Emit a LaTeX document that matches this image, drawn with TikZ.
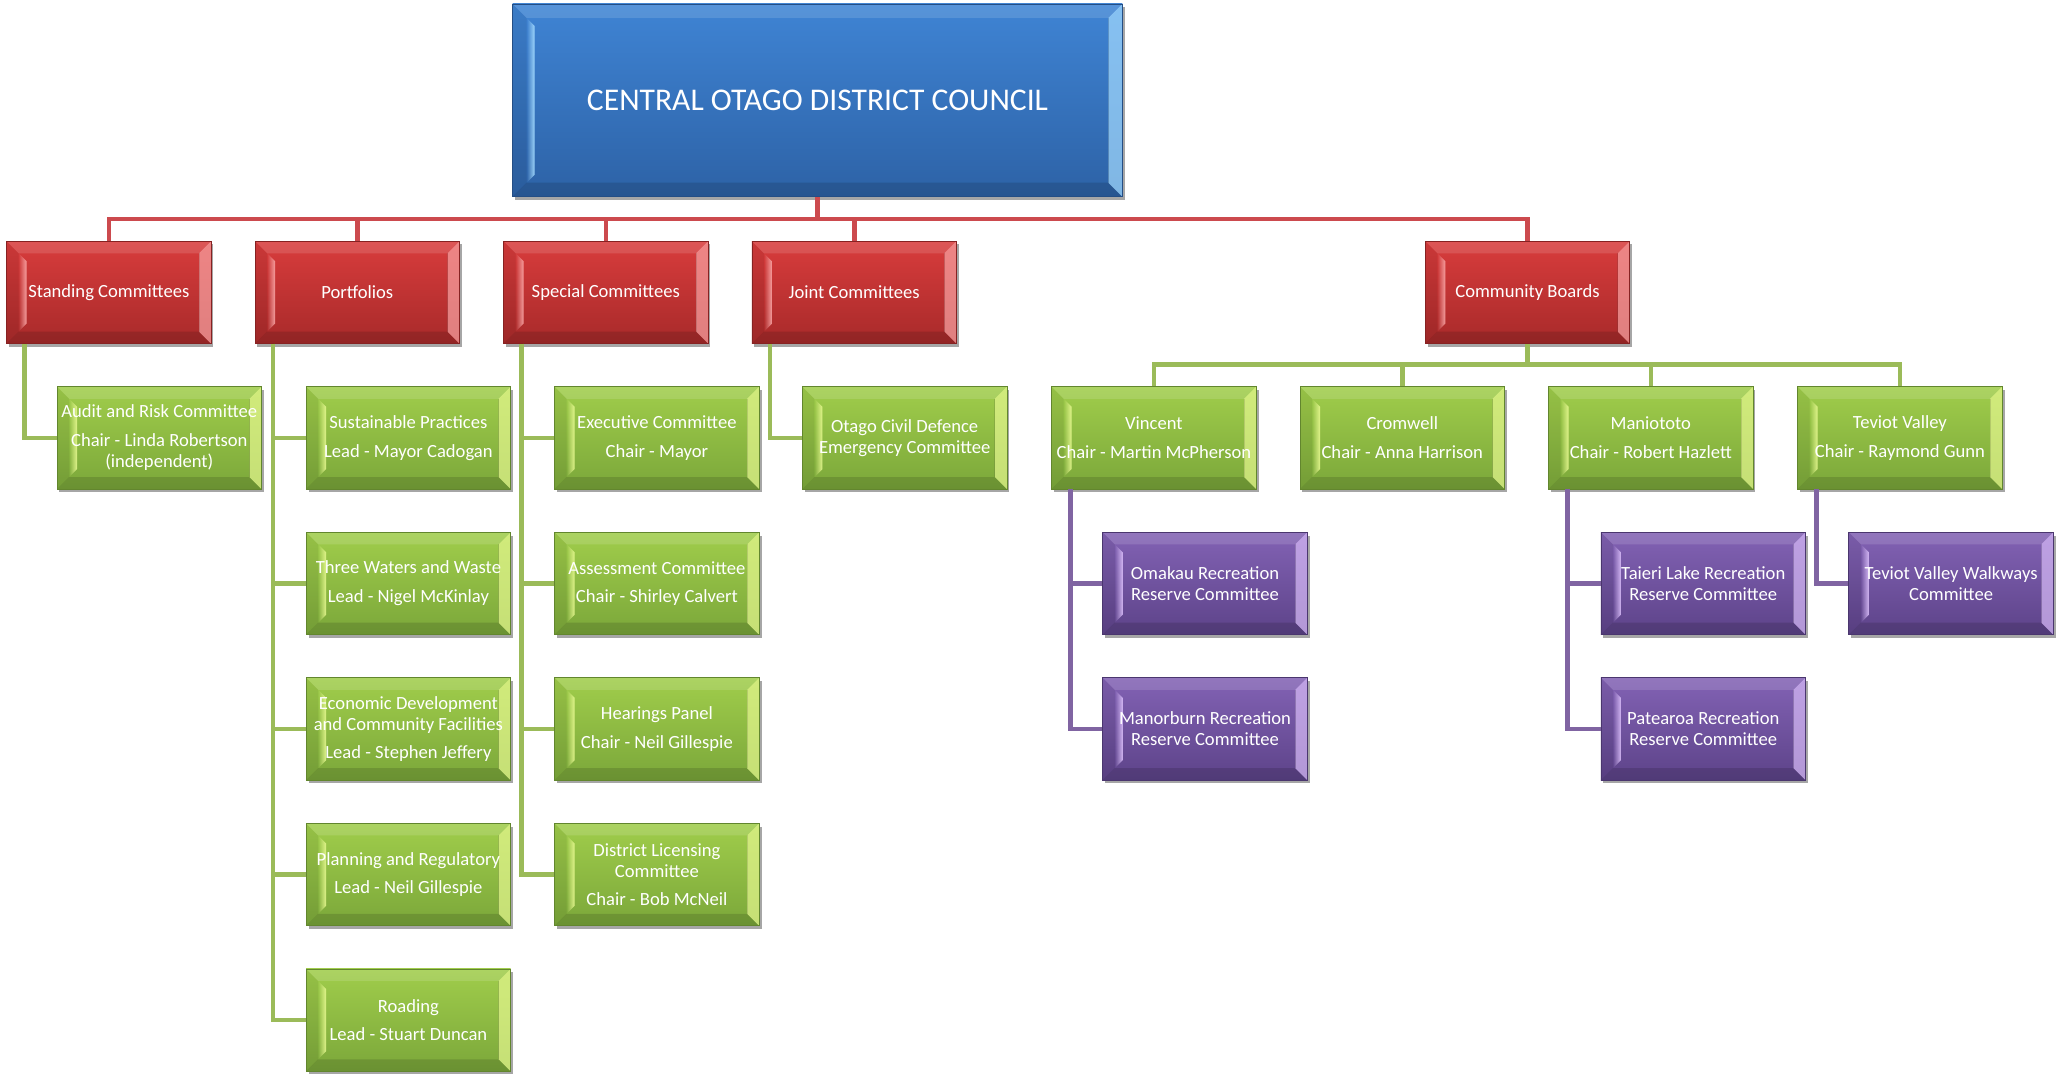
\documentclass[tikz,border=0pt]{standalone}
\usepackage{fontspec}
\setmainfont{Carlito}
\usetikzlibrary{shadows,fadings}

\definecolor{bTop}{HTML}{3F84D4}
\definecolor{bBot}{HTML}{2D62A6}
\definecolor{bLight}{HTML}{A4DBFF}
\definecolor{rTop}{HTML}{D83C3C}
\definecolor{rBot}{HTML}{A82A2A}
\definecolor{rLight}{HTML}{F8A4A4}
\definecolor{gTop}{HTML}{A0CD4B}
\definecolor{gBot}{HTML}{7BA73A}
\definecolor{gLight}{HTML}{E6F890}
\definecolor{pTop}{HTML}{8262B4}
\definecolor{pBot}{HTML}{5D4389}
\definecolor{pLight}{HTML}{D8BCF8}
\definecolor{rLine}{HTML}{CC4A4E}
\definecolor{gLine}{HTML}{9BBB59}
\definecolor{pLine}{HTML}{8064A2}

\newlength\bevd
\setlength\bevd{6pt}
\newcommand\pg{\\[3.9pt]}

% bevel decoration drawn inside each box
\newcommand\bevelpic[1]{%
  \path (path picture bounding box.south west) coordinate (bSW)
        (path picture bounding box.north west) coordinate (bNW)
        (path picture bounding box.north east) coordinate (bNE)
        (path picture bounding box.south east) coordinate (bSE);
  % top bevel
  \fill[white,opacity=.13] (bNW) -- (bNE) -- ([shift={(-\bevd,-\bevd)}]bNE) -- ([shift={(\bevd,-\bevd)}]bNW) -- cycle;
  % bottom bevel
  \fill[black,opacity=.13] (bSW) -- (bSE) -- ([shift={(-\bevd,\bevd)}]bSE) -- ([shift={(\bevd,\bevd)}]bSW) -- cycle;
  % left bevel
  \fill[black,opacity=.06] (bSW) -- (bNW) -- ([shift={(\bevd,-\bevd)}]bNW) -- ([shift={(\bevd,\bevd)}]bSW) -- cycle;
  % left bright band
  \fill[#1,path fading=west,opacity=.95] ([shift={(\bevd,-\bevd)}]bNW) -- ([shift={(\bevd+4pt,-\bevd-4pt)}]bNW) -- ([shift={(\bevd+4pt,\bevd+4pt)}]bSW) -- ([shift={(\bevd,\bevd)}]bSW) -- cycle;
  % right bevel
  \fill[#1,opacity=.7] (bSE) -- (bNE) -- ([shift={(-\bevd,-\bevd)}]bNE) -- ([shift={(-\bevd,\bevd)}]bSE) -- cycle;
  \draw[black,opacity=.12,line width=.5pt] ([shift={(-\bevd,-\bevd)}]bNE) -- ([shift={(-\bevd,\bevd)}]bSE);
}

\tikzset{
  box/.style={rectangle, inner sep=0pt, minimum width=102.25pt, minimum height=51.15pt,
    text=white, align=center, font=\fontsize{9.3}{10.5}\selectfont,
    drop shadow={shadow xshift=1.2pt, shadow yshift=-1.6pt, opacity=.35, fill=black}},
  bluebox/.style={box, minimum width=304.85pt, minimum height=96.35pt,
    font=\fontsize{15.8}{19}\selectfont,
    top color=bTop, bottom color=bBot, draw=bBot!80!black, line width=.4pt,
    path picture={\setlength\bevd{7pt}\bevelpic{bLight}}},
  redbox/.style={box, top color=rTop, bottom color=rBot, draw=rBot!80!black, line width=.4pt,
    path picture={\bevelpic{rLight}}},
  greenbox/.style={box, top color=gTop, bottom color=gBot, draw=gBot!80!black, line width=.4pt,
    path picture={\bevelpic{gLight}}},
  purplebox/.style={box, top color=pTop, bottom color=pBot, draw=pBot!80!black, line width=.4pt,
    path picture={\bevelpic{pLight}}},
  rline/.style={draw=rLine, line width=2.3pt},
  gline/.style={draw=gLine, line width=2.3pt},
  pline/.style={draw=pLine, line width=2.3pt},
}

\begin{document}
\begin{tikzpicture}[x=0.5pt,y=-0.5pt]
\useasboundingbox (0,0) rectangle (2056,1077);

% top
\node[bluebox] (council) at (817.5,100.3) {CENTRAL OTAGO DISTRICT COUNCIL};

% red level
\node[redbox] (stand) at (108.8,292.4) {Standing Committees};
\node[redbox] (port)  at (357.3,292.4) {Portfolios};
\node[redbox] (spec)  at (605.8,292.4) {Special Committees};
\node[redbox] (joint) at (854.2,292.4) {Joint Committees};
\node[redbox] (cb)    at (1527.5,292.4) {Community Boards};

% green level
\node[greenbox] (audit) at (159.3,437.9) {Audit and Risk Committee\pg Chair - Linda Robertson\\(independent)};

\node[greenbox] (sus)   at (408.4,437.9) {Sustainable Practices\pg Lead - Mayor Cadogan};
\node[greenbox] (three) at (408.4,583.5) {Three Waters and Waste\pg Lead - Nigel McKinlay};
\node[greenbox] (econ)  at (408.4,729.0) {Economic Development\\and Community Facilities\pg Lead - Stephen Jeffery};
\node[greenbox] (plan)  at (408.4,874.6) {Planning and Regulatory\pg Lead - Neil Gillespie};
\node[greenbox] (road)  at (408.4,1020.1) {Roading\pg Lead - Stuart Duncan};

\node[greenbox] (exec)   at (656.9,437.9) {Executive Committee\pg Chair - Mayor};
\node[greenbox] (assess) at (656.9,583.5) {Assessment Committee\pg Chair - Shirley Calvert};
\node[greenbox] (hear)   at (656.9,729.0) {Hearings Panel\pg Chair - Neil Gillespie};
\node[greenbox] (dlc)    at (656.9,874.6) {District Licensing\\Committee\pg Chair - Bob McNeil};

\node[greenbox] (ocd) at (904.7,437.9) {Otago Civil Defence\\Emergency Committee};

\node[greenbox] (vin)  at (1153.9,437.9) {Vincent\pg Chair - Martin McPherson};
\node[greenbox] (crom) at (1402.3,437.9) {Cromwell\pg Chair - Anna Harrison};
\node[greenbox] (mani) at (1650.8,437.9) {Maniototo\pg Chair - Robert Hazlett};
\node[greenbox] (tev)  at (1899.9,437.9) {Teviot Valley\pg Chair - Raymond Gunn};

% purple level
\node[purplebox] (omakau) at (1205,583.5) {Omakau Recreation\\Reserve Committee};
\node[purplebox] (manor)  at (1205,729.0) {Manorburn Recreation\\Reserve Committee};
\node[purplebox] (taieri) at (1703.2,583.5) {Taieri Lake Recreation\\Reserve Committee};
\node[purplebox] (patea)  at (1703.2,729.0) {Patearoa Recreation\\Reserve Committee};
\node[purplebox] (walk)   at (1951.1,583.5) {Teviot Valley Walkways\\Committee};

% red connectors
\coordinate (topbus) at (817.5,219);
\draw[rline] (council.south) -- (topbus);
\foreach \n in {stand,port,spec,joint,cb} \draw[rline] (\n.north) |- (topbus);

% green connectors (left side)
\draw[gline] ([xshift=9.2pt]stand.south west) |- (audit.west);
\foreach \n in {sus,three,econ,plan,road} \draw[gline] ([xshift=9.2pt]port.south west) |- (\n.west);
\foreach \n in {exec,assess,hear,dlc} \draw[gline] ([xshift=9.2pt]spec.south west) |- (\n.west);
\draw[gline] ([xshift=9.2pt]joint.south west) |- (ocd.west);

% community boards
\coordinate (cbbus) at (1527.5,364.5);
\draw[gline] (cb.south) -- (cbbus);
\foreach \n in {vin,crom,mani,tev} \draw[gline] (\n.north) |- (cbbus);

% purple connectors
\foreach \n in {omakau,manor} \draw[pline] ([xshift=9.6pt]vin.south west) |- (\n.west);
\foreach \n in {taieri,patea} \draw[pline] ([xshift=9.6pt]mani.south west) |- (\n.west);
\draw[pline] ([xshift=9.6pt]tev.south west) |- (walk.west);
\end{tikzpicture}
\end{document}
